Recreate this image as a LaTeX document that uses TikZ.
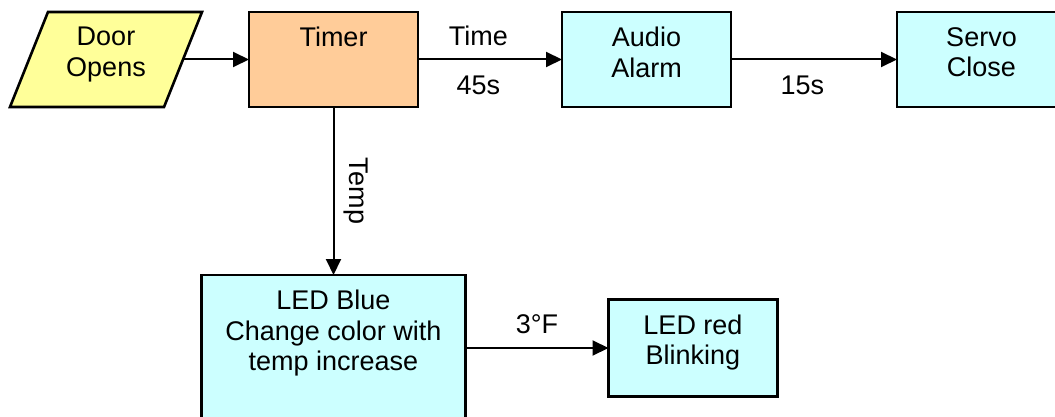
\documentclass[tikz,border=0pt]{standalone}
\usepackage{fontspec}
\setmainfont{Liberation Sans}
\usetikzlibrary{arrows.meta, positioning, backgrounds}
\definecolor{cYellow}{RGB}{255,255,153}
\definecolor{cOrange}{RGB}{255,204,153}
\definecolor{cCyan}{RGB}{204,255,255}
\newcommand{\boxfont}{\fontsize{27pt}{30.5pt}\selectfont}

\begin{document}
\begin{tikzpicture}[
  x=1pt, y=-1pt,
  box/.style={draw, line width=2.6pt, fill=cCyan, inner sep=0pt, outer sep=0pt,
              minimum width=169pt, minimum height=95pt},
  txt/.style={below=15pt, align=center, font=\boxfont, inner sep=0pt},
  lbl/.style={font=\boxfont, inner sep=0pt},
  arr/.style={-{Triangle[length=16pt, width=15pt]}, line width=2pt}
]
\useasboundingbox (0,0) rectangle (1055,417);
\clip (0,0) rectangle (1055,417);

%% ── TOP ROW ──────────────────────────────────────────────────────────────────

\node[box, draw=none, fill=none, minimum width=154pt,
      label={[txt]north:{Door\\Opens}}] (door) at (106,59.5) {};

\node[box, fill=cOrange, right=66pt of door,
      label={[txt]north:{Timer}}] (timer) {};

\node[box, right=144pt of timer,
      label={[txt]north:{Audio\\Alarm}}] (alarm) {};

\node[box, right=166pt of alarm,
      label={[txt]north:{Servo\\Close}}] (servo) {};

%% slanted input shape behind the door text
\begin{scope}[on background layer]
  \draw[line width=2.6pt, fill=cYellow]
    ([xshift=-19pt]door.south west) -- ([xshift=19pt]door.north west)
    -- ([xshift=19pt]door.north east) -- ([xshift=-19pt]door.south east) -- cycle;
\end{scope}

%% ── BOTTOM ROW ───────────────────────────────────────────────────────────────

\node[box, minimum width=264pt, minimum height=146pt, below=168pt of timer,
      label={[txt]north:{LED Blue\\Change color with\\temp increase}}] (ledblue) {};

\node[box, minimum height=97pt, right=143pt of ledblue,
      label={[txt]north:{LED red\\Blinking}}] (ledred) {};

%% ── ARROWS ───────────────────────────────────────────────────────────────────

\draw[arr] (door)  -- (timer);
\draw[arr] (timer) -- node[lbl, pos=.42, above=13pt] {Time}
                      node[lbl, pos=.42, below=15pt] {45s} (alarm);
\draw[arr] (alarm) -- node[lbl, pos=.43, below=15pt] {15s} (servo);
\draw[arr] (timer.south) -- node[lbl, inner sep=9pt, midway, rotate=-90,
                                 anchor=south] {Temp} (ledblue.north);
\draw[arr] (ledblue) -- node[lbl, above=13pt] {3°F} (ledred);

\end{tikzpicture}
\end{document}
